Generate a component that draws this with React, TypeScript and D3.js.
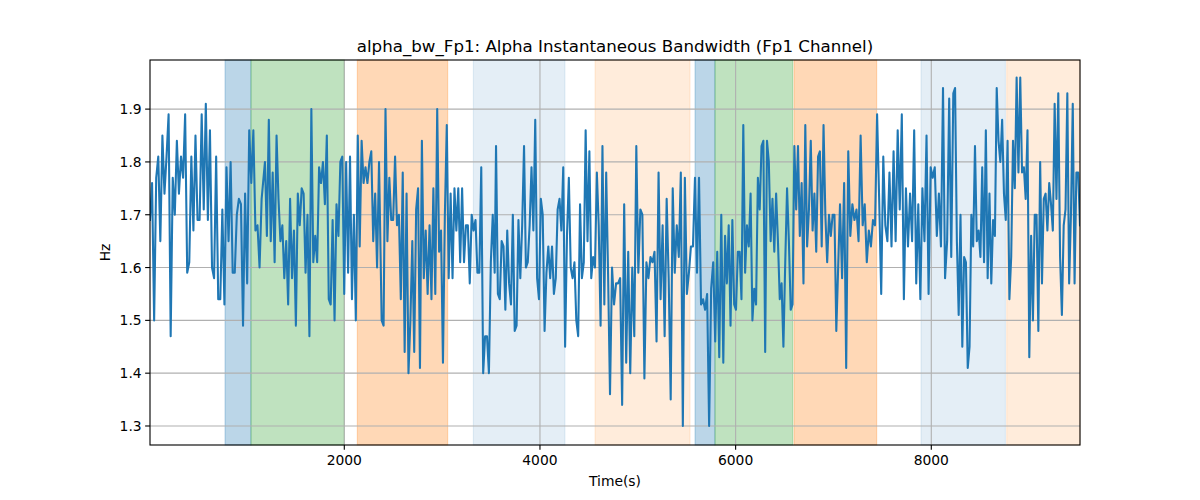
import React from 'react';
import * as d3 from 'd3';

// Signal, in eight chunks; each chunk's samples are evenly spaced
// between its first and last time.
const chunkStart = [14, 1189, 2382, 3551, 4716, 5892, 7067, 8243];
const chunkEnd = [1155, 2355, 3537, 4696, 5874, 7029, 8225, 9520];

const chunk1 = [1.69, 1.76, 1.50, 1.77, 1.81, 1.65, 1.85, 1.74, 1.81, 1.89, 1.47, 1.77, 1.70, 1.84, 1.74, 1.81, 1.77, 1.89, 1.59, 1.61, 1.81, 1.67, 1.85, 1.69, 1.69, 1.89, 1.71, 1.91, 1.69, 1.86, 1.60, 1.58, 1.81, 1.54, 1.54, 1.71, 1.53, 1.79, 1.65, 1.80, 1.59, 1.59, 1.70, 1.73, 1.72, 1.49, 1.74, 1.57, 1.86, 1.76, 1.86, 1.67, 1.68, 1.60, 1.73];
const chunk2 = [1.80, 1.66, 1.88, 1.65, 1.78, 1.61, 1.85, 1.73, 1.65, 1.68, 1.58, 1.65, 1.53, 1.73, 1.58, 1.67, 1.49, 1.74, 1.68, 1.75, 1.74, 1.59, 1.70, 1.47, 1.90, 1.61, 1.66, 1.61, 1.79, 1.76, 1.80, 1.72, 1.85, 1.54, 1.53, 1.69, 1.50, 1.72, 1.66, 1.80, 1.81, 1.55, 1.80, 1.59, 1.81, 1.54, 1.70, 1.50, 1.85, 1.64, 1.84, 1.76, 1.79, 1.76, 1.80, 1.82, 1.65, 1.74, 1.60, 1.80];
const chunk3 = [1.50, 1.49, 1.90, 1.65, 1.77, 1.69, 1.69, 1.81, 1.68, 1.70, 1.54, 1.78, 1.44, 1.74, 1.40, 1.50, 1.65, 1.44, 1.71, 1.75, 1.41, 1.84, 1.58, 1.67, 1.55, 1.68, 1.54, 1.75, 1.55, 1.90, 1.63, 1.67, 1.42, 1.70, 1.87, 1.58, 1.74, 1.58, 1.75, 1.67, 1.75, 1.61, 1.75, 1.61, 1.68, 1.68, 1.57, 1.70, 1.67, 1.69, 1.59, 1.59, 1.79, 1.40, 1.47, 1.47, 1.40, 1.61, 1.70, 1.59];
const chunk4 = [1.83, 1.55, 1.54, 1.65, 1.64, 1.52, 1.67, 1.57, 1.53, 1.70, 1.48, 1.49, 1.69, 1.58, 1.68, 1.83, 1.60, 1.61, 1.68, 1.79, 1.67, 1.88, 1.58, 1.54, 1.73, 1.70, 1.48, 1.59, 1.64, 1.58, 1.64, 1.55, 1.58, 1.71, 1.73, 1.67, 1.79, 1.45, 1.66, 1.77, 1.60, 1.58, 1.61, 1.50, 1.47, 1.72, 1.58, 1.61, 1.86, 1.65, 1.82, 1.58, 1.62, 1.60, 1.78, 1.68, 1.49, 1.83, 1.53, 1.78, 1.59];
const chunk5 = [1.36, 1.60, 1.53, 1.57, 1.57, 1.58, 1.34, 1.72, 1.42, 1.63, 1.40, 1.60, 1.47, 1.83, 1.59, 1.71, 1.70, 1.39, 1.61, 1.58, 1.62, 1.61, 1.63, 1.46, 1.78, 1.54, 1.68, 1.47, 1.73, 1.58, 1.35, 1.75, 1.59, 1.68, 1.62, 1.78, 1.30, 1.77, 1.55, 1.59, 1.64, 1.64, 1.77, 1.59, 1.77, 1.53, 1.54, 1.52, 1.55, 1.30, 1.56, 1.61, 1.46, 1.63, 1.43, 1.70, 1.42];
const chunk6 = [1.66, 1.57, 1.68, 1.49, 1.69, 1.53, 1.52, 1.63, 1.63, 1.54, 1.87, 1.59, 1.68, 1.64, 1.74, 1.50, 1.56, 1.53, 1.77, 1.71, 1.83, 1.84, 1.44, 1.84, 1.80, 1.65, 1.73, 1.63, 1.74, 1.65, 1.54, 1.57, 1.45, 1.61, 1.75, 1.65, 1.52, 1.53, 1.83, 1.71, 1.83, 1.66, 1.76, 1.57, 1.87, 1.64, 1.71, 1.84, 1.67, 1.74, 1.63, 1.81, 1.82, 1.64, 1.87, 1.70, 1.61, 1.70, 1.66, 1.70, 1.70, 1.48];
const chunk7 = [1.72, 1.58, 1.76, 1.41, 1.82, 1.66, 1.72, 1.69, 1.71, 1.65, 1.85, 1.68, 1.72, 1.61, 1.67, 1.64, 1.69, 1.68, 1.89, 1.73, 1.55, 1.81, 1.68, 1.65, 1.78, 1.64, 1.82, 1.65, 1.86, 1.71, 1.89, 1.54, 1.75, 1.64, 1.74, 1.65, 1.86, 1.57, 1.72, 1.54, 1.75, 1.65, 1.85, 1.55, 1.79, 1.77, 1.79, 1.66, 1.74, 1.64, 1.94, 1.58, 1.65, 1.92, 1.62, 1.93];
const chunk8 = [1.94, 1.65, 1.51, 1.70, 1.45, 1.62, 1.61, 1.41, 1.45, 1.70, 1.64, 1.83, 1.65, 1.67, 1.62, 1.79, 1.61, 1.86, 1.58, 1.74, 1.57, 1.69, 1.66, 1.94, 1.84, 1.80, 1.88, 1.74, 1.69, 1.84, 1.54, 1.62, 1.84, 1.75, 1.96, 1.78, 1.96, 1.78, 1.79, 1.73, 1.86, 1.43, 1.66, 1.50, 1.70, 1.70, 1.48, 1.80, 1.57, 1.73, 1.74, 1.67, 1.76, 1.72, 1.67, 1.91, 1.73, 1.93, 1.62, 1.51, 1.68, 1.71, 1.93, 1.57, 1.70, 1.91, 1.57, 1.78, 1.78, 1.68];

const chunks = [chunk1, chunk2, chunk3, chunk4, chunk5, chunk6, chunk7, chunk8];

// shaded periods
const bandStart = [781, 1046, 2133, 3319, 4563, 5585, 5789, 6597, 7895, 8771];
const bandEnd = [1046, 2000, 3057, 4256, 5534, 5789, 6584, 7442, 8757, 9520];
const bandColor = ['#1f77b4', '#2ca02c', '#ff7f0e', '#1f77b4', '#ff7f0e', '#1f77b4', '#2ca02c', '#ff7f0e', '#1f77b4', '#ff7f0e'];
const bandAlpha = [0.3, 0.3, 0.3, 0.12, 0.15, 0.3, 0.3, 0.3, 0.12, 0.15];

const xTicks = [2000, 4000, 6000, 8000];
const yTicks = [1.3, 1.4, 1.5, 1.6, 1.7, 1.8, 1.9];

const W = 1200;
const H = 500;
const margin = { top: 60, right: 120, bottom: 55, left: 150 };

type Pt = { t: number; v: number };

const App: React.FC = () => {
  const x = d3.scaleLinear().domain([14, 9520]).range([margin.left, W - margin.right]);
  const y = d3.scaleLinear().domain([1.264, 1.993]).range([H - margin.bottom, margin.top]);

  const points: Pt[] = [];
  chunks.forEach((vals, c) => {
    const idx = d3.scaleLinear().domain([0, vals.length - 1]).range([chunkStart[c], chunkEnd[c]]);
    vals.forEach((v, i) => points.push({ t: idx(i), v }));
  });

  const line = d3.line<Pt>().x(d => x(d.t)).y(d => y(d.v));

  const font = '"DejaVu Sans", sans-serif';
  const x0 = margin.left;
  const x1 = W - margin.right;
  const y0 = H - margin.bottom;
  const y1 = margin.top;
  const tickFs = 13.89;

  return (
    <svg width={W} height={H} style={{ position: 'absolute', left: 0, top: 0, background: '#fff' }} fontFamily={font}>
      <defs>
        <clipPath id="plot">
          <rect x={x0} y={y1} width={x1 - x0} height={y0 - y1} />
        </clipPath>
      </defs>

      {bandStart.map((s, i) => (
        <rect
          key={'b' + i}
          x={x(s)}
          y={y1}
          width={x(bandEnd[i]) - x(s)}
          height={y0 - y1}
          fill={bandColor[i]}
          fillOpacity={bandAlpha[i]}
          stroke={bandColor[i]}
          strokeOpacity={bandAlpha[i]}
          strokeWidth={1}
        />
      ))}

      {/* grid */}
      {xTicks.map(t => (
        <line key={'gx' + t} x1={x(t)} x2={x(t)} y1={y1} y2={y0} stroke="#b0b0b0" strokeWidth={1.11} />
      ))}
      {yTicks.map(t => (
        <line key={'gy' + t} x1={x0} x2={x1} y1={y(t)} y2={y(t)} stroke="#b0b0b0" strokeWidth={1.11} />
      ))}

      <path d={line(points) ?? ''} fill="none" stroke="#1f77b4" strokeWidth={2.08} strokeLinejoin="round" strokeLinecap="square" clipPath="url(#plot)" />

      {/* frame */}
      <rect x={x0} y={y1} width={x1 - x0} height={y0 - y1} fill="none" stroke="#000" strokeWidth={1.11} />

      {xTicks.map(t => (
        <g key={'tx' + t}>
          <line x1={x(t)} x2={x(t)} y1={y0} y2={y0 + 4.86} stroke="#000" strokeWidth={1.11} />
          <text x={x(t)} y={y0 + 19.5} textAnchor="middle" fontSize={tickFs} fill="#000">{t}</text>
        </g>
      ))}
      {yTicks.map(t => (
        <g key={'ty' + t}>
          <line x1={x0 - 4.86} x2={x0} y1={y(t)} y2={y(t)} stroke="#000" strokeWidth={1.11} />
          <text x={x0 - 8.3} y={y(t)} dy="0.36em" textAnchor="end" fontSize={tickFs} fill="#000">{t.toFixed(1)}</text>
        </g>
      ))}

      <text x={(x0 + x1) / 2} y={52} textAnchor="middle" fontSize={16.67} fill="#000">
        alpha_bw_Fp1: Alpha Instantaneous Bandwidth (Fp1 Channel)
      </text>
      <text x={(x0 + x1) / 2} y={486} textAnchor="middle" fontSize={tickFs} fill="#000">Time(s)</text>
      <text transform={`translate(110, ${(y0 + y1) / 2}) rotate(-90)`} textAnchor="middle" fontSize={tickFs} fill="#000">Hz</text>
    </svg>
  );
};

export default App;
